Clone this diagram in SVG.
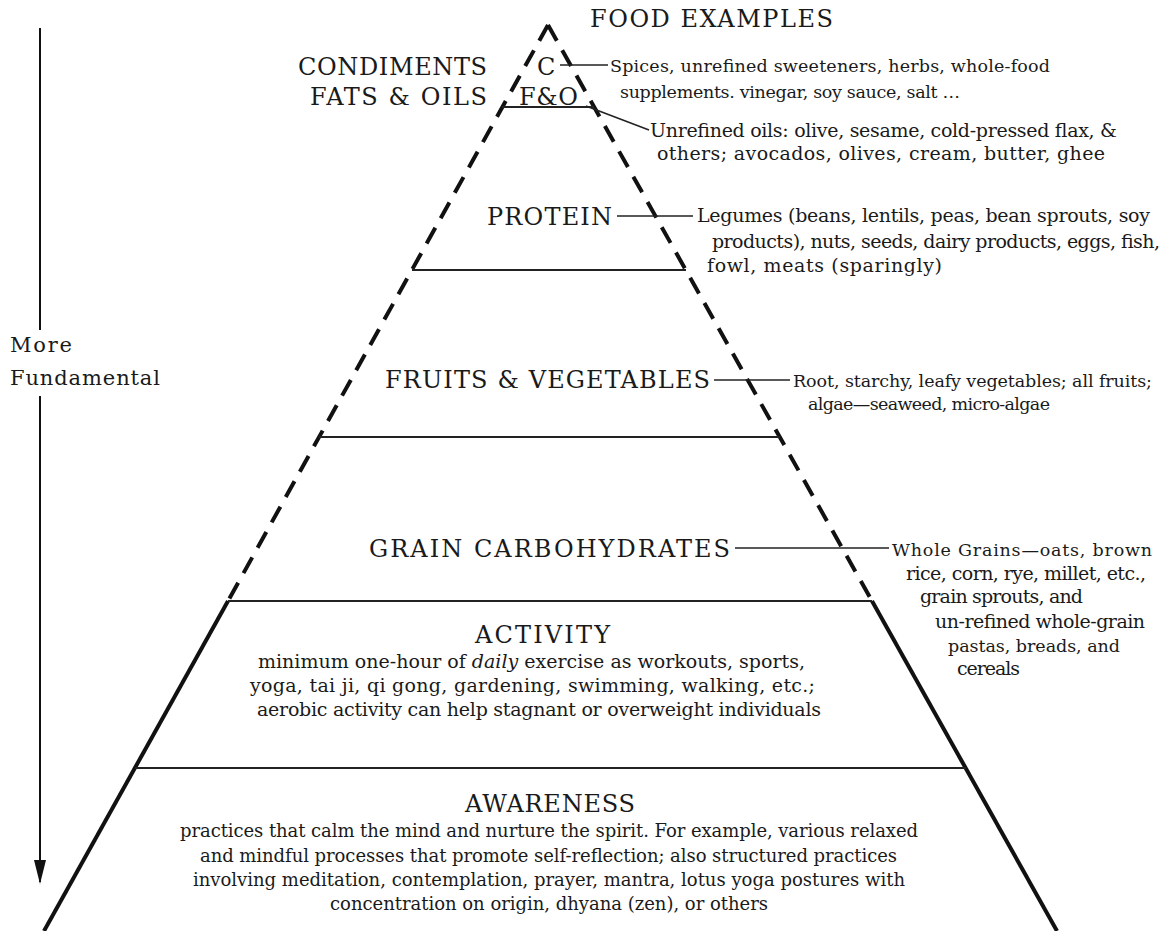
<svg xmlns="http://www.w3.org/2000/svg" width="1171" height="931" viewBox="0 0 1171 931">
<style>
text{font-family:"DejaVu Serif","Liberation Serif",serif;fill:#1a1a1a}
.h{font-size:24px}
.b{font-size:19px}
.s{font-size:17.5px}
.a{font-size:19px}
.w{font-size:18px}
.m{font-size:21px}
.dash{fill:none;stroke:#111;stroke-width:4;stroke-dasharray:18 11}
.side{fill:none;stroke:#111;stroke-width:4}
.tier{stroke:#222;stroke-width:2}
.lead{stroke:#222;stroke-width:1.5;fill:none}
</style>
<defs>
<marker id="ah" viewBox="0 0 24 12" refX="22" refY="6" markerWidth="24" markerHeight="12" markerUnits="userSpaceOnUse" orient="auto">
<path d="M0,0 L24,6 L0,12 Z" fill="#111"/>
</marker>
</defs>
<rect width="1171" height="931" fill="#fff"/>

<g id="pyramid">
<path class="dash" d="M548,25 L228,601"/>
<path class="dash" d="M548,25 L872,601"/>
<path class="side" d="M228,601 L44,931"/>
<path class="side" d="M872,601 L1057,931"/>
<line class="tier" x1="502" y1="107" x2="594" y2="107"/>
<line class="tier" x1="412" y1="270" x2="686" y2="270"/>
<line class="tier" x1="319" y1="437" x2="780" y2="437"/>
<line class="tier" x1="228" y1="601" x2="872" y2="601"/>
<line class="tier" x1="135" y1="768" x2="966" y2="768"/>
</g>

<g id="title">
<text class="h" x="590" y="27" textLength="243">FOOD EXAMPLES</text>
</g>

<g id="axis">
<line x1="40" y1="28" x2="40" y2="330" stroke="#111" stroke-width="2"/>
<line x1="40" y1="396" x2="40" y2="882" stroke="#111" stroke-width="2" marker-end="url(#ah)"/>
<text class="m" x="10" y="352" textLength="62">More</text>
<text class="m" x="10" y="385" textLength="150">Fundamental</text>
</g>

<g id="condiments">
<text class="h" x="298" y="75" textLength="189">CONDIMENTS</text>
<text class="h" x="537" y="75" textLength="19">C</text>
<text class="s" x="610" y="72" textLength="440">Spices, unrefined sweeteners, herbs, whole-food</text>
<text class="s" x="620" y="98" textLength="340">supplements. vinegar, soy sauce, salt …</text>
</g>

<g id="fats-oils">
<text class="h" x="310" y="105" textLength="177">FATS &amp; OILS</text>
<text class="h" x="519" y="105" textLength="59">F&amp;O</text>
<text class="b" x="650" y="137" textLength="467">Unrefined oils: olive, sesame, cold-pressed flax, &amp;</text>
<text class="b" x="657" y="160" textLength="448">others; avocados, olives, cream, butter, ghee</text>
</g>

<g id="protein">
<text class="h" x="487" y="225" textLength="125">PROTEIN</text>
<text class="b" x="697" y="222" textLength="453">Legumes (beans, lentils, peas, bean sprouts, soy</text>
<text class="b" x="712" y="248" textLength="448">products), nuts, seeds, dairy products, eggs, fish,</text>
<text class="b" x="707" y="272" textLength="235">fowl, meats (sparingly)</text>
</g>

<g id="fruits-vegetables">
<text class="h" x="385" y="388" textLength="325">FRUITS &amp; VEGETABLES</text>
<text class="s" x="793" y="387" textLength="359">Root, starchy, leafy vegetables; all fruits;</text>
<text class="s" x="808" y="410" textLength="242">algae—seaweed, micro-algae</text>
</g>

<g id="grain-carbohydrates">
<text class="h" x="369" y="557" textLength="361">GRAIN CARBOHYDRATES</text>
<text class="s" x="892" y="556" textLength="260">Whole Grains—oats, brown</text>
<text class="b" x="906" y="580" textLength="240">rice, corn, rye, millet, etc.,</text>
<text class="b" x="920" y="603" textLength="163">grain sprouts, and</text>
<text class="b" x="935" y="628" textLength="210">un-refined whole-grain</text>
<text class="s" x="948" y="652" textLength="172">pastas, breads, and</text>
<text class="b" x="957" y="675" textLength="63">cereals</text>
</g>

<g id="activity">
<text class="h" x="475" y="643" textLength="135">ACTIVITY</text>
<text class="a" x="258" y="668" textLength="547">minimum one-hour of <tspan font-style="italic">daily</tspan> exercise as workouts, sports,</text>
<text class="a" x="250" y="692" textLength="565">yoga, tai ji, qi gong, gardening, swimming, walking, etc.;</text>
<text class="a" x="257" y="716" textLength="564">aerobic activity can help stagnant or overweight individuals</text>
</g>

<g id="awareness">
<text class="h" x="465" y="812" textLength="170">AWARENESS</text>
<text class="w" x="180" y="837" textLength="738">practices that calm the mind and nurture the spirit. For example, various relaxed</text>
<text class="w" x="200" y="862" textLength="697">and mindful processes that promote self-reflection; also structured practices</text>
<text class="w" x="193" y="886" textLength="712">involving meditation, contemplation, prayer, mantra, lotus yoga postures with</text>
<text class="w" x="330" y="910" textLength="438">concentration on origin, dhyana (zen), or others</text>
</g>

<g id="connectors">
<line class="lead" x1="560" y1="65" x2="608" y2="65"/>
<line class="lead" x1="586" y1="106" x2="649" y2="130"/>
<line class="lead" x1="617" y1="216" x2="693" y2="216"/>
<line class="lead" x1="714" y1="380" x2="790" y2="380"/>
<line class="lead" x1="735" y1="548" x2="889" y2="548"/>
</g>
</svg>
